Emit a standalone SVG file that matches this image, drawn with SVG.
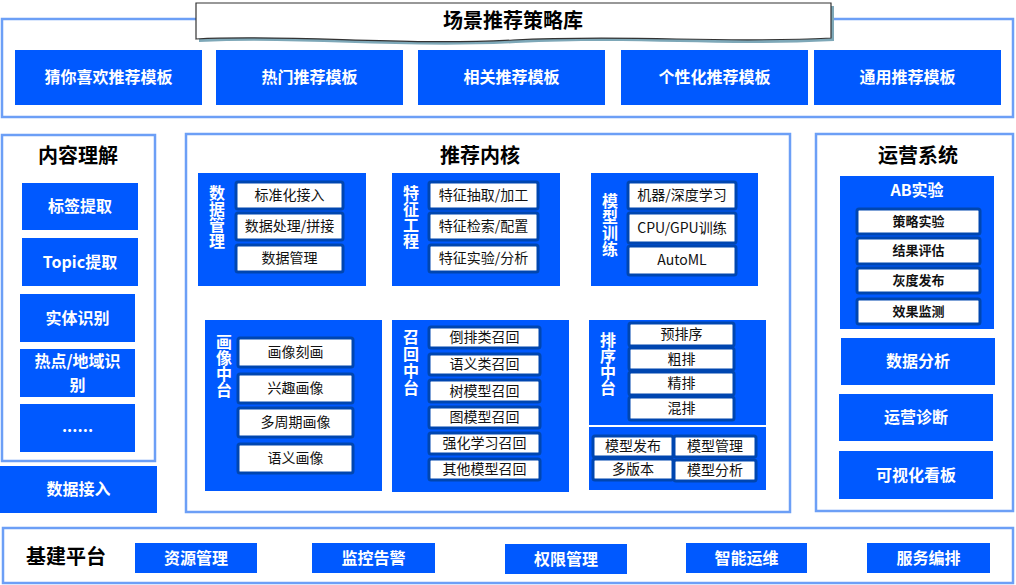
<svg xmlns="http://www.w3.org/2000/svg" width="1016" height="585" viewBox="0 0 1016 585">
<style>
text{font-family:"Noto Sans CJK SC","Liberation Sans",sans-serif;dominant-baseline:central;text-anchor:middle;transform:translateY(-1.5px)}
.ob{fill:#fff;stroke:#6c9ff6;stroke-width:2.5}
.bl{fill:#0059ff}
.it{fill:#fff;stroke:#0046b0;stroke-width:3}
.wt{fill:#fff;font-size:16px;font-weight:bold}
.hd{fill:#000;font-size:20px;font-weight:bold}
.tx{fill:#111;font-size:14px}
.tb{fill:#111;font-size:13px;font-weight:bold}
.vl{fill:#fff;font-size:16px;font-weight:bold;writing-mode:vertical-rl;text-anchor:start;transform:none}
</style>
<rect width="1016" height="585" fill="#fff"/>

<g id="scene-library">
<rect class="ob" x="2" y="19" width="1011" height="98"/>
<path d="M199,6 H834 V41 C720,47 640,37 516,43 C400,49 300,37 199,42 Z" fill="#7ea8b8"/>
<path d="M196,3 H831 V38 C717,44 637,34 513,40 C397,46 297,34 196,39 Z" fill="#fff" stroke="#333" stroke-width="1.2"/>
<text class="hd" x="513" y="21">场景推荐策略库</text>
<rect class="bl" x="15" y="50" width="187" height="55"/><text class="wt" x="108.5" y="77.5">猜你喜欢推荐模板</text>
<rect class="bl" x="216" y="50" width="187" height="55"/><text class="wt" x="309.5" y="77.5">热门推荐模板</text>
<rect class="bl" x="418" y="50" width="187" height="55"/><text class="wt" x="511.5" y="77.5">相关推荐模板</text>
<rect class="bl" x="621" y="50" width="187" height="55"/><text class="wt" x="714.5" y="77.5">个性化推荐模板</text>
<rect class="bl" x="814" y="50" width="187" height="55"/><text class="wt" x="907.5" y="77.5">通用推荐模板</text>
</g>

<g id="content-understanding">
<rect class="ob" x="2" y="135" width="153" height="326"/>
<text class="hd" x="78" y="156">内容理解</text>
<rect class="bl" x="22" y="183" width="116" height="47"/><text class="wt" x="80" y="206.5">标签提取</text>
<rect class="bl" x="22" y="238" width="116" height="48"/><text class="wt" x="80" y="262">Topic提取</text>
<rect class="bl" x="20" y="294" width="115" height="48"/><text class="wt" x="77.5" y="318">实体识别</text>
<rect class="bl" x="20" y="349" width="115" height="48"/><text class="wt"><tspan x="77.5" y="361">热点/地域识</tspan><tspan x="77.5" y="385">别</tspan></text>
<rect class="bl" x="20" y="404" width="115" height="48"/><text class="wt" x="77.5" y="426">......</text>
</g>

<g id="data-ingest">
<rect class="bl" x="0" y="466" width="157" height="47"/><text class="wt" x="78.5" y="489.5">数据接入</text>
</g>

<g id="rec-core">
<rect class="ob" x="186" y="134" width="604" height="378"/>
<text class="hd" x="480" y="156">推荐内核</text>
</g>

<g id="data-mgmt">
<rect class="bl" x="198" y="173" width="168" height="113"/>
<text class="vl" x="217" y="185">数据管理</text>
<rect class="it" x="236" y="182" width="107" height="27" rx="2"/><text class="tx" x="289.5" y="195.5">标准化接入</text>
<rect class="it" x="236" y="213" width="107" height="27" rx="2"/><text class="tx" x="289.5" y="226.5">数据处理/拼接</text>
<rect class="it" x="236" y="245" width="107" height="27" rx="2"/><text class="tx" x="289.5" y="258.5">数据管理</text>
</g>

<g id="feature-eng">
<rect class="bl" x="392" y="173" width="168" height="113"/>
<text class="vl" x="411" y="185">特征工程</text>
<rect class="it" x="429" y="182" width="109" height="27" rx="2"/><text class="tx" x="483.5" y="195.5">特征抽取/加工</text>
<rect class="it" x="429" y="213" width="109" height="27" rx="2"/><text class="tx" x="483.5" y="226.5">特征检索/配置</text>
<rect class="it" x="429" y="245" width="109" height="27" rx="2"/><text class="tx" x="483.5" y="258.5">特征实验/分析</text>
</g>

<g id="model-train">
<rect class="bl" x="591" y="173" width="167" height="113"/>
<text class="vl" x="610" y="193">模型训练</text>
<rect class="it" x="628" y="182" width="108" height="27" rx="2"/><text class="tx" x="682" y="195.5">机器/深度学习</text>
<rect class="it" x="628" y="213" width="108" height="30" rx="2"/><text class="tx" x="682" y="228">CPU/GPU训练</text>
<rect class="it" x="628" y="246" width="108" height="29" rx="2"/><text class="tx" x="682" y="260.5">AutoML</text>
</g>

<g id="profile-center">
<rect class="bl" x="205" y="320" width="177" height="171"/>
<text class="vl" x="224" y="334">画像中台</text>
<rect class="it" x="238" y="338" width="115" height="29" rx="2"/><text class="tx" x="295.5" y="352.5">画像刻画</text>
<rect class="it" x="238" y="374" width="115" height="29" rx="2"/><text class="tx" x="295.5" y="388.5">兴趣画像</text>
<rect class="it" x="238" y="408" width="115" height="29" rx="2"/><text class="tx" x="295.5" y="422.5">多周期画像</text>
<rect class="it" x="238" y="444" width="115" height="29" rx="2"/><text class="tx" x="295.5" y="458.5">语义画像</text>
</g>

<g id="recall-center">
<rect class="bl" x="392" y="320" width="177" height="172"/>
<text class="vl" x="411" y="329" letter-spacing="1">召回中台</text>
<rect class="it" x="429" y="327" width="111" height="21" rx="2"/><text class="tx" x="484.5" y="337.5">倒排类召回</text>
<rect class="it" x="429" y="354" width="111" height="21" rx="2"/><text class="tx" x="484.5" y="364.5">语义类召回</text>
<rect class="it" x="429" y="380" width="111" height="22" rx="2"/><text class="tx" x="484.5" y="391">树模型召回</text>
<rect class="it" x="429" y="407" width="111" height="21" rx="2"/><text class="tx" x="484.5" y="417.5">图模型召回</text>
<rect class="it" x="429" y="433" width="111" height="21" rx="2"/><text class="tx" x="484.5" y="443.5">强化学习召回</text>
<rect class="it" x="429" y="459" width="111" height="21" rx="2"/><text class="tx" x="484.5" y="469.5">其他模型召回</text>
</g>

<g id="rank-center">
<rect class="bl" x="589" y="320" width="177" height="105"/>
<text class="vl" x="608" y="332">排序中台</text>
<rect class="it" x="629" y="323" width="105" height="23" rx="2"/><text class="tx" x="681.5" y="334.5">预排序</text>
<rect class="it" x="629" y="348" width="105" height="22" rx="2"/><text class="tx" x="681.5" y="359">粗排</text>
<rect class="it" x="629" y="372" width="105" height="23" rx="2"/><text class="tx" x="681.5" y="383.5">精排</text>
<rect class="it" x="629" y="397" width="105" height="23" rx="2"/><text class="tx" x="681.5" y="408.5">混排</text>
</g>

<g id="model-ops">
<rect class="bl" x="589" y="427" width="177" height="63"/>
<rect class="it" x="593" y="436" width="80" height="21" rx="2"/><text class="tx" x="633" y="446.5">模型发布</text>
<rect class="it" x="674" y="436" width="82" height="21" rx="2"/><text class="tx" x="715" y="446.5">模型管理</text>
<rect class="it" x="593" y="459" width="80" height="21" rx="2"/><text class="tx" x="633" y="469.5">多版本</text>
<rect class="it" x="674" y="460" width="82" height="21" rx="2"/><text class="tx" x="715" y="470.5">模型分析</text>
</g>

<g id="ops-system">
<rect class="ob" x="816" y="134" width="197" height="377"/>
<text class="hd" x="918" y="156">运营系统</text>
</g>

<g id="ab-test">
<rect class="bl" x="840" y="176" width="154" height="153"/>
<text class="wt" x="917" y="190">AB实验</text>
<rect class="it" x="857" y="209" width="123" height="25" rx="2"/><text class="tb" x="918.5" y="221.5">策略实验</text>
<rect class="it" x="857" y="238" width="123" height="26" rx="2"/><text class="tb" x="918.5" y="251">结果评估</text>
<rect class="it" x="857" y="268" width="123" height="25" rx="2"/><text class="tb" x="918.5" y="280.5">灰度发布</text>
<rect class="it" x="857" y="299" width="123" height="25" rx="2"/><text class="tb" x="918.5" y="311.5">效果监测</text>
</g>

<g id="ops-items">
<rect class="bl" x="841" y="338" width="154" height="47"/><text class="wt" x="918" y="361.5">数据分析</text>
<rect class="bl" x="839" y="394" width="154" height="47"/><text class="wt" x="916" y="417.5">运营诊断</text>
<rect class="bl" x="839" y="451" width="154" height="48"/><text class="wt" x="916" y="475">可视化看板</text>
</g>

<g id="infra-platform">
<rect class="ob" x="3" y="528" width="1010" height="55"/>
<text class="hd" x="66" y="557">基建平台</text>
<rect class="bl" x="135" y="543" width="122" height="30"/><text class="wt" x="196" y="558">资源管理</text>
<rect class="bl" x="312" y="543" width="123" height="30"/><text class="wt" x="373.5" y="558">监控告警</text>
<rect class="bl" x="505" y="544" width="122" height="30"/><text class="wt" x="566" y="559">权限管理</text>
<rect class="bl" x="686" y="543" width="121" height="30"/><text class="wt" x="746.5" y="558">智能运维</text>
<rect class="bl" x="867" y="543" width="123" height="30"/><text class="wt" x="928.5" y="558">服务编排</text>
</g>

<g id="connectors"></g>
</svg>
